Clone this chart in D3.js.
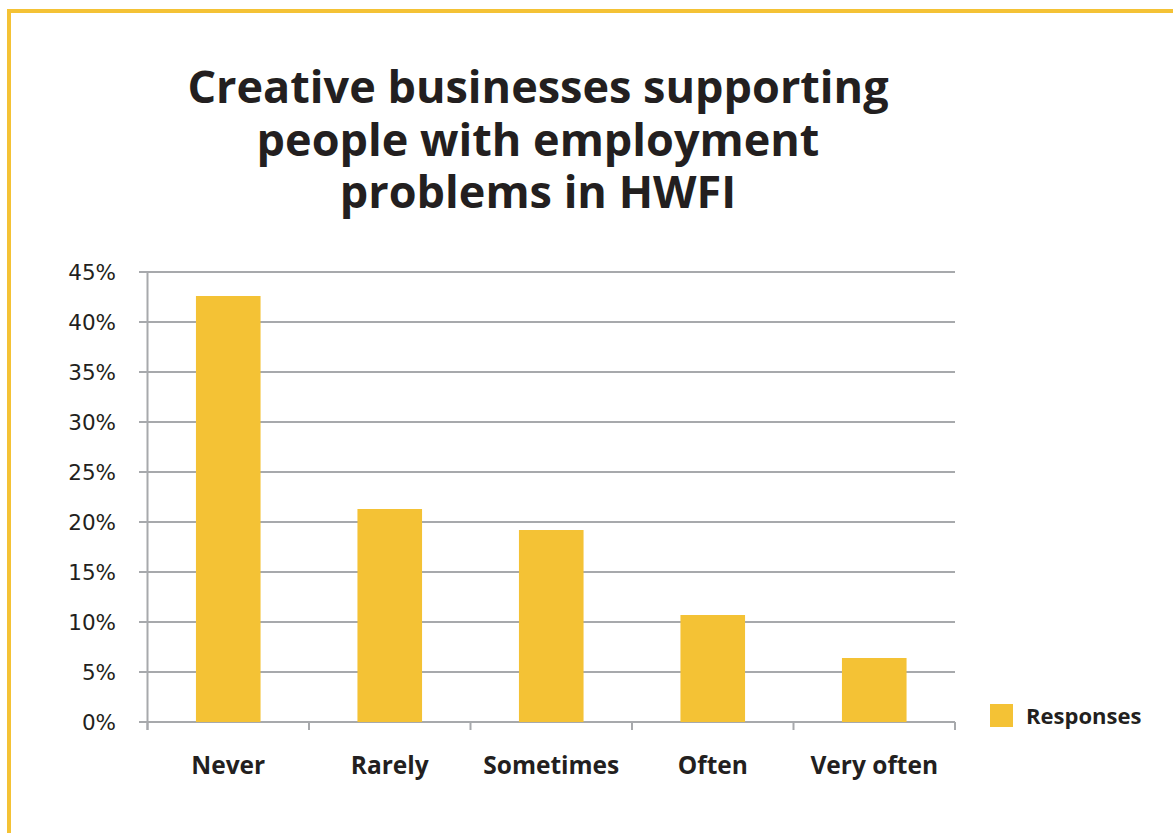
<!DOCTYPE html>
<html>
<head>
<meta charset="utf-8">
<script src="https://cdn.jsdelivr.net/npm/d3@7"></script>
<style>
  body { margin: 0; background: #fff; }
  svg { display: block; font-family: "Open Sans", "Liberation Sans", Arial, sans-serif; }
</style>
</head>
<body>
<script>
var categories = ["Never", "Rarely", "Sometimes", "Often", "Very often"];
var values = [42.6, 21.3, 19.2, 10.7, 6.4];
var yTicks = [0, 5, 10, 15, 20, 25, 30, 35, 40, 45];
var titleLines = ["Creative businesses supporting", "people with employment", "problems in HWFI"];
var seriesName = "Responses";

var yellow = "#f4c235",
  grid = "#a7a9ac",
  ink = "#231f20";

var svg = d3.select("body").append("svg").attr("width", 1173).attr("height", 833);

// yellow frame (top and left)
svg.append("rect").attr("x", 7).attr("y", 9).attr("width", 1166).attr("height", 4).attr("fill", yellow);
svg.append("rect").attr("x", 7).attr("y", 9).attr("width", 4).attr("height", 824).attr("fill", yellow);

svg
  .append("g")
  .selectAll("text")
  .data(titleLines)
  .enter()
  .append("text")
  .attr("x", 538)
  .attr("y", (d, i) => 103 + i * 52.5)
  .attr("text-anchor", "middle")
  .attr("font-size", 45)
  .attr("font-weight", "bold")
  .attr("fill", ink)
  .text((d) => d);

var x = d3.scaleBand().domain(categories).range([147.5, 955]).paddingInner(0.6).paddingOuter(0.3);
var y = d3.scaleLinear().domain([0, 45]).range([722, 272]);

// gridlines
svg
  .append("g")
  .selectAll("line")
  .data(yTicks)
  .enter()
  .append("line")
  .attr("x1", 139)
  .attr("x2", 955)
  .attr("y1", (d) => y(d))
  .attr("y2", (d) => y(d))
  .attr("stroke", grid)
  .attr("stroke-width", 2);

// y axis line
svg.append("line").attr("x1", 147.5).attr("x2", 147.5).attr("y1", 271).attr("y2", 730).attr("stroke", grid).attr("stroke-width", 2);

// category ticks
var step = x.step();
svg
  .append("g")
  .selectAll("line")
  .data(d3.range(categories.length + 1))
  .enter()
  .append("line")
  .attr("x1", (i) => 147.5 + i * step)
  .attr("x2", (i) => 147.5 + i * step)
  .attr("y1", 722)
  .attr("y2", 730)
  .attr("stroke", grid)
  .attr("stroke-width", 2);

svg
  .append("g")
  .selectAll("rect")
  .data(values)
  .enter()
  .append("rect")
  .attr("x", (d, i) => x(categories[i]))
  .attr("width", x.bandwidth())
  .attr("y", (d) => y(d))
  .attr("height", (d) => y(0) - y(d))
  .attr("fill", yellow);

svg
  .append("g")
  .selectAll("text")
  .data(yTicks)
  .enter()
  .append("text")
  .attr("x", 116)
  .attr("y", (d) => y(d) + 8)
  .attr("text-anchor", "end")
  .attr("font-family", "DejaVu Sans, sans-serif")
  .attr("font-size", 21.5)
  .attr("fill", ink)
  .text((d) => d + "%");

svg
  .append("g")
  .selectAll("text")
  .data(categories)
  .enter()
  .append("text")
  .attr("x", (d) => x(d) + x.bandwidth() / 2)
  .attr("y", 774)
  .attr("text-anchor", "middle")
  .attr("font-size", 24.5)
  .attr("font-weight", "bold")
  .attr("fill", ink)
  .text((d) => d);

// legend
svg.append("rect").attr("x", 990).attr("y", 704).attr("width", 23).attr("height", 23).attr("fill", yellow);
svg
  .append("text")
  .attr("x", 1026)
  .attr("y", 724)
  .attr("font-size", 22)
  .attr("font-weight", "bold")
  .attr("fill", ink)
  .text(seriesName);
</script>
</body>
</html>
